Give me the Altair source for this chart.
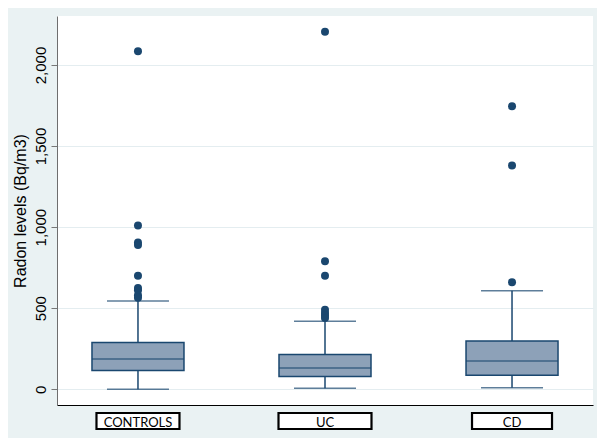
import altair as alt
import pandas as pd

# ---- data ----
groups = ["CONTROLS", "UC", "CD"]
lower_whisker = [0, 6, 10]
q1 = [115, 78, 87]
median = [187, 131, 175]
q3 = [288, 214, 298]
upper_whisker = [545, 420, 607]

outliers_controls = [2085, 1010, 905, 890, 700, 625, 610, 580, 565]
outliers_uc = [2205, 790, 700, 490, 470, 455, 440]
outliers_cd = [1745, 1380, 660]

y_ticks = [0, 500, 1000, 1500, 2000]

# ---- tables ----
stats = pd.DataFrame({
    "group": groups,
    "lower": lower_whisker,
    "q1": q1,
    "median": median,
    "q3": q3,
    "upper": upper_whisker,
})
out_rows = []
for g, vals in zip(groups, [outliers_controls, outliers_uc, outliers_cd]):
    for v in vals:
        out_rows.append({"group": g, "value": v})
outl = pd.DataFrame(out_rows)

NAVY = "#1A476F"
FILL = "#8DA1B8"
FONT = "Liberation Sans"
LABEL_FONT = "Lato"

xs = alt.X("group:N", sort=groups,
           scale=alt.Scale(type="point", padding=0.433),
           axis=alt.Axis(labels=False, ticks=False, title=None, grid=False,
                         domainColor="#000000", domainWidth=1.2))
yscale = alt.Scale(domain=[-97, 2302], nice=False, zero=False)
yax = alt.Axis(values=y_ticks, format=",.0f", title="Radon levels (Bq/m3)",
               grid=True, gridColor="#E4EDF0", gridWidth=1,
               tickSize=6, tickColor="#777777", tickWidth=1,
               domainColor="#6e6e6e", domainWidth=1,
               labelAngle=-90, labelAlign="center", labelBaseline="alphabetic",
               labelPadding=6, labelFont=FONT, labelFontSize=15, labelColor="#000000",
               titleFont=FONT, titleFontSize=16, titleFontWeight="normal",
               titleColor="#000000", titleAngle=270, titleAlign="center",
               titleBaseline="alphabetic", titleX=-32, titleY=194.5)

base = alt.Chart(stats)

whisk_lo = base.mark_rule(color=NAVY, strokeWidth=1.5).encode(
    x=xs, y=alt.Y("lower:Q", scale=yscale, axis=yax), y2="q1:Q")
whisk_hi = base.mark_rule(color=NAVY, strokeWidth=1.5).encode(
    x=xs, y=alt.Y("q3:Q", scale=yscale), y2="upper:Q")
cap_lo = base.mark_tick(color=NAVY, size=62, thickness=1.5).encode(
    x=xs, y=alt.Y("lower:Q", scale=yscale))
cap_hi = base.mark_tick(color=NAVY, size=62, thickness=1.5).encode(
    x=xs, y=alt.Y("upper:Q", scale=yscale))
box = base.mark_bar(size=92, fill=FILL, stroke=NAVY, strokeWidth=1.5).encode(
    x=xs, y=alt.Y("q1:Q", scale=yscale), y2="q3:Q")
med = base.mark_tick(color=NAVY, size=92, thickness=1.5).encode(
    x=xs, y=alt.Y("median:Q", scale=yscale))
pts = alt.Chart(outl).mark_circle(size=64, color=NAVY, opacity=1).encode(
    x=xs, y=alt.Y("value:Q", scale=yscale))

# framed category labels under the axis
label_widths = {"CONTROLS": 83, "UC": 93, "CD": 80}
label_layers = []
for g in groups:
    one = base.transform_filter(alt.datum.group == g)
    label_layers.append(one.mark_bar(size=label_widths[g], fill="white",
                                     stroke="#000000", strokeWidth=2.2).encode(
        x=xs, y=alt.value(397), y2=alt.value(413)))
label_text = base.mark_text(font=LABEL_FONT, fontSize=13, color="#000000",
                            baseline="alphabetic", align="center").encode(
    x=xs, y=alt.value(410.5), text="group:N")

chart = alt.layer(whisk_lo, whisk_hi, cap_lo, cap_hi, box, med, pts,
                  *label_layers, label_text).properties(
    width=536, height=389,
    autosize=alt.AutoSizeParams(type="none"),
    padding={"left": 49, "top": 8, "right": 4, "bottom": 33},
    background="#EAF2F3",
).configure_view(fill="white", stroke=None)

chart.save("out.html", embed_options={"renderer": "svg", "actions": False})
